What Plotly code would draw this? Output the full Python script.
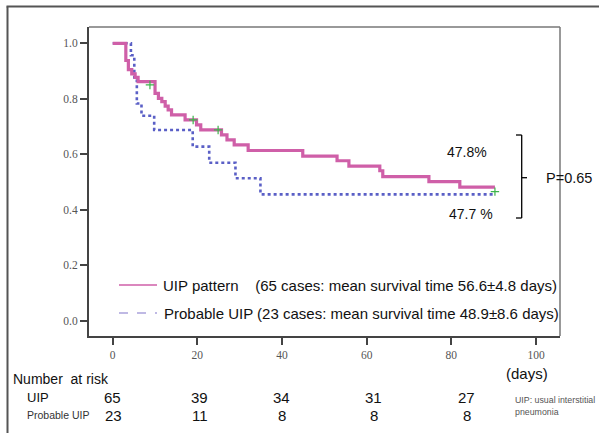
import plotly.graph_objects as go

# ---- data ----
uip_t = [0, 3.1, 3.7, 4.5, 5.3, 6.0, 10.0, 10.8, 11.6, 12.4, 13.1, 13.9, 17.1, 19.8, 20.8,
         25.7, 27.0, 28.7, 32.0, 44.9, 53.0, 55.8, 63.1, 63.8, 74.7, 82.0, 90.3]
uip_s = [1.0, 0.938, 0.905, 0.890, 0.877, 0.862, 0.820, 0.802, 0.790, 0.774, 0.760, 0.742, 0.724, 0.706, 0.688,
         0.670, 0.652, 0.634, 0.614, 0.594, 0.577, 0.558, 0.541, 0.520, 0.502, 0.482, 0.482]
prob_t = [0, 4.3, 5.1, 5.7, 6.8, 9.8, 18.9, 22.8, 29.0, 34.9, 90.3]
prob_s = [1.0, 0.957, 0.870, 0.783, 0.739, 0.688, 0.628, 0.570, 0.514, 0.456, 0.456]
cens_t = [8.8, 19.0, 24.9, 90.3]
cens_s = [0.850, 0.724, 0.688, 0.466]

x_ticks = [0, 20, 40, 60, 80, 100]
y_ticks = [0.0, 0.2, 0.4, 0.6, 0.8, 1.0]
y_ticklabels = ["0.0", "0.2", "0.4", "0.6", "0.8", "1.0"]

risk_uip = [65, 39, 34, 31, 27]
risk_prob = [23, 11, 8, 8, 8]

legend_uip = "UIP pattern    (65 cases: mean survival time 56.6±4.8 days)"
legend_prob = "Probable UIP (23 cases: mean survival time 48.9±8.6 days)"

PINK = "#cf5fa8"
BLUE = "#5a5fc6"

# ---- layout geometry (pixels) ----
W, H = 599, 433
L, R, T, B = 89, 560, 27, 336


def px(x):
    return (x - L) / (R - L)


def py(y):
    return (B - y) / (B - T)


fig = go.Figure()
fig.add_trace(go.Scatter(x=prob_t, y=prob_s, mode="lines", line=dict(shape="hv", color=BLUE, width=2.6, dash="dot"),
                         showlegend=False, hoverinfo="skip"))
fig.add_trace(go.Scatter(x=uip_t, y=uip_s, mode="lines", line=dict(shape="hv", color=PINK, width=3.2),
                         showlegend=False, hoverinfo="skip"))
fig.add_trace(go.Scatter(x=cens_t, y=cens_s, mode="markers",
                         marker=dict(symbol="cross-thin", size=6, line=dict(color="#3cb44b", width=1.2)),
                         showlegend=False, hoverinfo="skip"))

serif = "Liberation Serif, Times New Roman, serif"
sans = "Liberation Sans, Arial, sans-serif"

fig.update_layout(
    width=W, height=H,
    margin=dict(l=L, r=W - R, t=T, b=H - B),
    paper_bgcolor="white", plot_bgcolor="white",
    xaxis=dict(range=[-5.6, 105.67], tickvals=x_ticks, ticks="outside", ticklen=7, tickwidth=1.5,
               tickcolor="#444", showline=True, linecolor="#444", linewidth=2, showgrid=False, zeroline=False,
               tickfont=dict(family=serif, size=11.5, color="#555")),
    yaxis=dict(range=[-0.054, 1.0587], tickvals=y_ticks, ticktext=y_ticklabels, ticks="outside", ticklen=7,
               tickwidth=1.5, tickcolor="#444", showline=True, linecolor="#444", linewidth=2, showgrid=False,
               zeroline=False, tickfont=dict(family=serif, size=11.5, color="#555")),
)

shapes = []
# top and right frame of plot
shapes.append(dict(type="line", xref="paper", yref="paper", x0=0, x1=1, y0=1, y1=1, line=dict(color="#777", width=1.5)))
shapes.append(dict(type="line", xref="paper", yref="paper", x0=1, x1=1, y0=0, y1=1, line=dict(color="#777", width=1.5)))
# outer frame
shapes.append(dict(type="line", xref="paper", yref="paper", x0=px(7.5), x1=px(7.5), y0=py(6.5), y1=py(440),
                   line=dict(color="#555", width=2)))
shapes.append(dict(type="line", xref="paper", yref="paper", x0=px(6.5), x1=px(610), y0=py(6.5), y1=py(6.5),
                   line=dict(color="#555", width=2)))
# bracket
bx = 521.7
shapes.append(dict(type="line", xref="paper", yref="paper", x0=px(bx), x1=px(bx), y0=py(135), y1=py(218),
                   line=dict(color="black", width=1.3)))
shapes.append(dict(type="line", xref="paper", yref="paper", x0=px(516), x1=px(bx), y0=py(135), y1=py(135),
                   line=dict(color="black", width=1.3)))
shapes.append(dict(type="line", xref="paper", yref="paper", x0=px(516), x1=px(bx), y0=py(218), y1=py(218),
                   line=dict(color="black", width=1.3)))
shapes.append(dict(type="line", xref="paper", yref="paper", x0=px(bx), x1=px(527), y0=py(177.7), y1=py(177.7),
                   line=dict(color="black", width=1.3)))
# legend samples
shapes.append(dict(type="line", xref="paper", yref="paper", x0=px(119), x1=px(157), y0=py(285), y1=py(285),
                   line=dict(color=PINK, width=1.5)))
shapes.append(dict(type="line", xref="paper", yref="paper", x0=px(119), x1=px(157), y0=py(313), y1=py(313),
                   line=dict(color="#aaa2dc", width=1.5, dash="dash")))
fig.update_layout(shapes=shapes)


def ann(text, x, y, size, xanchor="left", color="#111", family=sans):
    fig.add_annotation(text=text, xref="paper", yref="paper", x=px(x), y=py(y), xanchor=xanchor, yanchor="middle",
                       showarrow=False, font=dict(family=family, size=size, color=color))


ann(legend_uip, 161, 285, 15)
ann(legend_prob, 162, 313, 15)
ann("47.8%", 445, 151.5, 14)
ann("47.7 %", 447, 214, 14)
ann("P=0.65", 544, 177.7, 14.5)
ann("(days)", 504, 373, 15)
ann("Number  at risk", 11, 379, 14)
ann("UIP", 25, 397.5, 13)
ann("Probable UIP", 25, 415, 10.5, color="#333")
ann("UIP: usual interstitial", 513, 400, 8.8, color="#555")
ann("pneumonia", 513, 412, 8.8, color="#555")

risk_cols = [112, 199, 281, 373, 466]
for cx, a, b in zip(risk_cols, risk_uip, risk_prob):
    ann(str(a), cx, 397.5, 15, xanchor="center")
    ann(str(b), cx + 1, 415, 15, xanchor="center")

fig.write_html("out.html")
